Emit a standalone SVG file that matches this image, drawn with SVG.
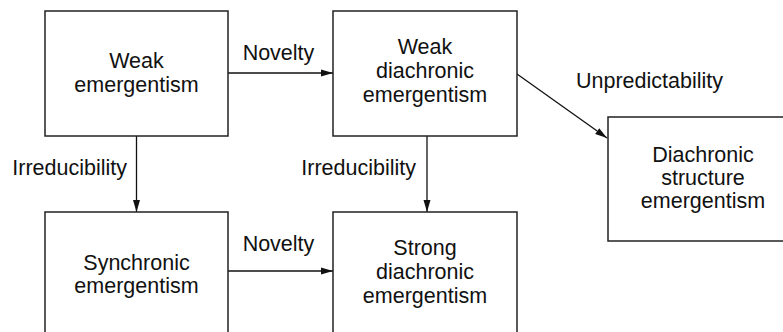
<svg xmlns="http://www.w3.org/2000/svg" width="783" height="332" viewBox="0 0 783 332">
<style>
  .box { fill: #fff; stroke: #222; stroke-width: 1.5; }
  .t { font-family: "Liberation Sans", Arial, sans-serif; font-size: 21.5px; fill: #111; text-anchor: middle; }
  .lbl { font-family: "Liberation Sans", Arial, sans-serif; font-size: 21.5px; fill: #111; }
  .edge { stroke: #111; stroke-width: 1.3; fill: none; marker-end: url(#arr); }
</style>
<defs>
  <marker id="arr" markerWidth="12" markerHeight="8" refX="12" refY="4" orient="auto" markerUnits="userSpaceOnUse">
    <path d="M0,0.5 L12,4 L0,7.5 z" fill="#111"/>
  </marker>
</defs>
<rect width="783" height="332" fill="#fff"/>
<g id="connectors">
  <line class="edge" x1="228" y1="73" x2="333" y2="73"/>
  <line class="edge" x1="228" y1="271" x2="333" y2="271"/>
  <line class="edge" x1="136.5" y1="136" x2="136.5" y2="212"/>
  <line class="edge" x1="427" y1="136" x2="427" y2="212"/>
  <line class="edge" x1="517" y1="74" x2="607" y2="138"/>
  <text class="lbl" x="278.5" y="60" text-anchor="middle">Novelty</text>
  <text class="lbl" x="278.5" y="251" text-anchor="middle">Novelty</text>
  <text class="lbl" x="127" y="175" text-anchor="end">Irreducibility</text>
  <text class="lbl" x="416" y="175" text-anchor="end">Irreducibility</text>
  <text class="lbl" x="649.5" y="88" text-anchor="middle">Unpredictability</text>
</g>
<g id="weak-emergentism">
  <rect class="box" x="45" y="11" width="183" height="125"/>
  <text class="t" x="136.5" y="68">Weak</text>
  <text class="t" x="136.5" y="92">emergentism</text>
</g>
<g id="weak-diachronic">
  <rect class="box" x="333" y="11" width="184" height="125"/>
  <text class="t" x="425" y="54">Weak</text>
  <text class="t" x="425" y="78">diachronic</text>
  <text class="t" x="425" y="102">emergentism</text>
</g>
<g id="synchronic">
  <rect class="box" x="45" y="212" width="183" height="140"/>
  <text class="t" x="136.5" y="270">Synchronic</text>
  <text class="t" x="136.5" y="293">emergentism</text>
</g>
<g id="strong-diachronic">
  <rect class="box" x="333" y="212" width="184" height="140"/>
  <text class="t" x="425" y="255">Strong</text>
  <text class="t" x="425" y="279">diachronic</text>
  <text class="t" x="425" y="303">emergentism</text>
</g>
<g id="diachronic-structure">
  <rect class="box" x="608" y="117" width="200" height="124"/>
  <text class="t" x="703" y="162">Diachronic</text>
  <text class="t" x="703" y="185">structure</text>
  <text class="t" x="703" y="208">emergentism</text>
</g>
</svg>
